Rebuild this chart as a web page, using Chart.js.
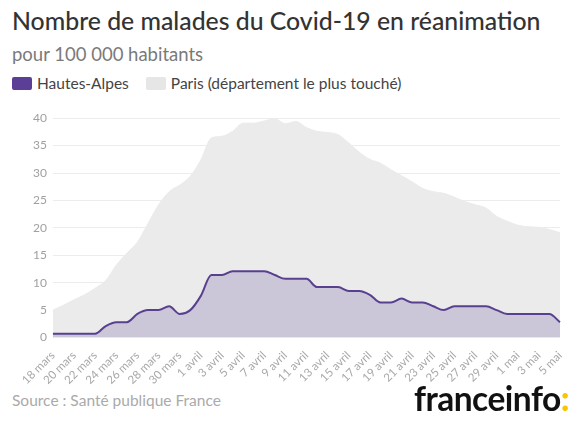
<!DOCTYPE html>
<html>
<head>
<meta charset="utf-8">
<script src="https://cdn.jsdelivr.net/npm/chart.js@4"></script>
<style>
    body { margin: 0; background: #fff; font-family: Lato, 'Open Sans', sans-serif; }
    #page { position: relative; width: 578px; height: 427px; overflow: hidden; }
    h1 { position: absolute; left: 12px; top: 6px; margin: 0; font-size: 24.8px; font-weight: 500; color: #333; }
    .sub { position: absolute; left: 12px; top: 43px; font-size: 18.5px; color: #7a7a7a; }
    .legend { position: absolute; left: 12px; top: 74px; font-size: 15.5px; color: #444; display: flex; align-items: center; }
    .legend span.box { display: inline-block; width: 20px; height: 13px; border-radius: 2px; margin-right: 5px; }
    .legend .item { display: flex; align-items: center; margin-right: 17px; }
    #wrap { position: absolute; left: 0; top: 105px; width: 578px; height: 285px; }
    .source { position: absolute; left: 12px; top: 391px; font-size: 15.5px; color: #aaa; }
    .logo { position: absolute; right: 9px; top: 378px; font-size: 33.5px; font-weight: 700; color: #111; letter-spacing: -0.5px; }
    .logo b { color: #f7c600; }
</style>
</head>
<body>
<div id="page">
    <h1>Nombre de malades du Covid-19 en réanimation</h1>
    <div class="sub">pour 100 000 habitants</div>
    <div class="legend">
        <div class="item"><span class="box" style="background:#5b3f96"></span>Hautes-Alpes</div>
        <div class="item"><span class="box" style="background:#e6e6e6"></span>Paris (département le plus touché)</div>
    </div>
    <div id="wrap"><canvas id="reaChart"></canvas></div>
    <div class="source">Source : Santé publique France</div>
    <div class="logo">franceinfo<b>:</b></div>
</div>
<script>
const dates = [
    '18 mars', '19 mars', '20 mars', '21 mars', '22 mars', '23 mars', '24 mars', '25 mars',
    '26 mars', '27 mars', '28 mars', '29 mars', '30 mars', '31 mars',
    '1 avril', '2 avril', '3 avril', '4 avril', '5 avril', '6 avril', '7 avril', '8 avril',
    '9 avril', '10 avril', '11 avril', '12 avril', '13 avril', '14 avril', '15 avril', '16 avril',
    '17 avril', '18 avril', '19 avril', '20 avril', '21 avril', '22 avril', '23 avril', '24 avril',
    '25 avril', '26 avril', '27 avril', '28 avril', '29 avril', '30 avril',
    '1 mai', '2 mai', '3 mai', '4 mai', '5 mai'
];

const hautesAlpes = [
    0.7, 0.7, 0.7, 0.7, 0.7, 2.1, 2.8, 2.8, 4.3, 5.0, 5.0, 5.7, 4.3, 5.0,
    7.6, 11.4, 11.4, 12.1, 12.1, 12.1, 12.1, 11.4, 10.7, 10.7, 10.7, 9.2,
    9.2, 9.2, 8.5, 8.5, 7.8, 6.4, 6.4, 7.1, 6.4, 6.4, 5.7, 5.0, 5.7, 5.7,
    5.7, 5.7, 5.0, 4.3, 4.3, 4.3, 4.3, 4.3, 2.8
];

const paris = [
    5.0, 5.9, 6.9, 7.8, 9.0, 10.4, 13.2, 15.4, 17.4, 20.8, 24.2, 26.6, 27.8, 29.4,
    32.4, 36.4, 36.7, 37.6, 39.1, 39.1, 39.5, 39.9, 39.0, 39.4, 38.3, 37.6,
    37.4, 37.0, 35.5, 33.8, 32.5, 31.8, 30.6, 29.5, 28.4, 27.2, 26.6, 26.3,
    25.6, 24.8, 24.2, 23.6, 22.1, 21.2, 20.5, 20.2, 20.1, 19.7, 19.1
];

const yTicks = [0, 5, 10, 15, 20, 25, 30, 35, 40];

document.addEventListener('DOMContentLoaded', function() {
    const ctx = document.getElementById('reaChart').getContext('2d');
    new Chart(ctx, {
        type: 'line',
        data: {
            labels: dates,
            datasets: [{
                label: 'Hautes-Alpes',
                data: hautesAlpes,
                borderColor: '#58408f',
                borderWidth: 2,
                backgroundColor: '#cbc6d8',
                fill: 'origin',
                pointRadius: 0,
                cubicInterpolationMode: 'monotone'
            }, {
                label: 'Paris (département le plus touché)',
                data: paris,
                borderColor: '#ebebeb',
                borderWidth: 1,
                backgroundColor: '#ebebeb',
                fill: 'origin',
                pointRadius: 0,
                cubicInterpolationMode: 'monotone'
            }]
        },
        options: {
            animation: false,
            responsive: true,
            maintainAspectRatio: false,
            layout: { padding: { left: 27, right: 18, top: 8, bottom: 0 } },
            plugins: {
                legend: { display: false },
                tooltip: { enabled: false }
            },
            scales: {
                x: {
                    grid: { display: false },
                    border: { display: false },
                    ticks: {
                        color: '#a8a8a8',
                        font: { family: 'Lato', size: 11.5 },
                        maxRotation: 45,
                        minRotation: 45,
                        autoSkip: false,
                        padding: 3,
                        callback: function(v, i) { return i % 2 === 0 ? dates[i] : ''; }
                    }
                },
                y: {
                    min: 0,
                    max: 40,
                    afterBuildTicks: function(axis) { axis.ticks = yTicks.map(v => ({ value: v })); },
                    grid: { color: '#ececec', drawTicks: false },
                    border: { display: false },
                    ticks: {
                        color: '#a0a0a0',
                        font: { family: 'Lato', size: 12 },
                        padding: 6
                    }
                }
            }
        }
    });
});
</script>
</body>
</html>
